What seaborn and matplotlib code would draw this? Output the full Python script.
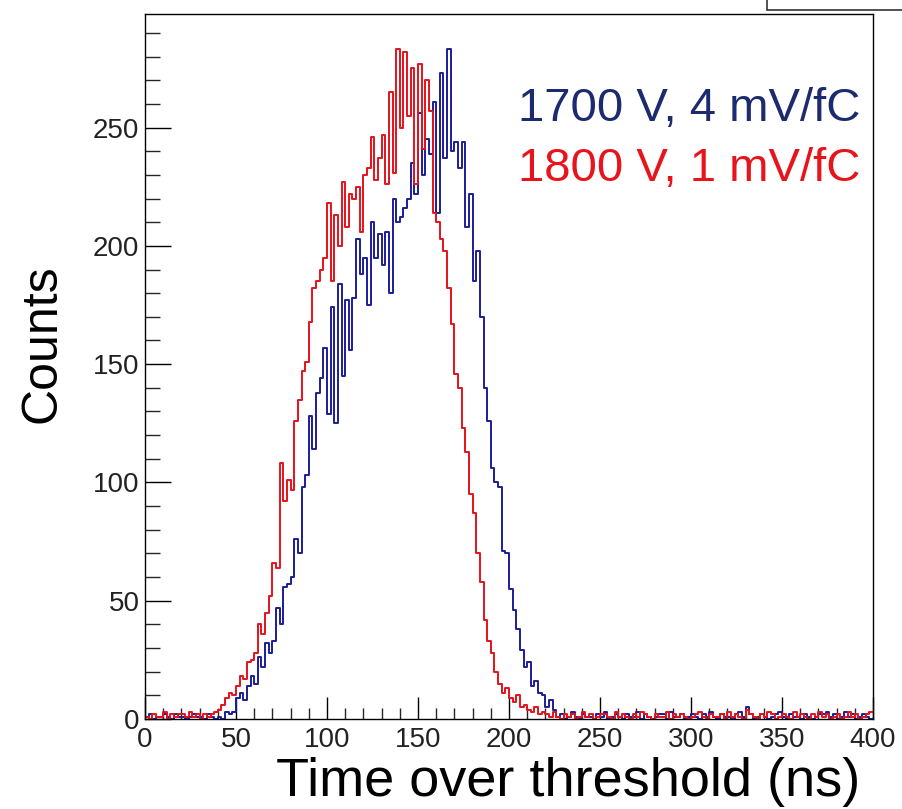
import numpy as np
import pandas as pd
import matplotlib
matplotlib.use("Agg")
import matplotlib.pyplot as plt
import seaborn as sns
from matplotlib.ticker import MultipleLocator
from matplotlib.patches import Rectangle

# ---------------- data (2 ns bins, 0-400 ns) ----------------
bin_width = 2
x_range = (0, 400)
bin_centers = np.arange(1, 400, 2)

red_counts = [
    1, 0, 2, 1, 1, 3, 0, 2, 1, 2, 2, 1, 3, 1, 2, 0, 2, 1, 2, 3,
    4, 6, 9, 11, 10, 14, 18, 17, 24, 25,
    28, 40, 36, 45, 52, 66, 64, 108, 92, 101,
    97, 126, 135, 147, 151, 168, 182, 185, 190, 195,
    218, 185, 213, 200, 227, 208, 222, 220, 225, 206,
    230, 233, 246, 228, 237, 247, 226, 265, 231, 283,
    250, 282, 255, 275, 226, 277, 241, 270, 257, 214,
    210, 203, 198, 182, 167, 146, 140, 123, 113, 95,
    87, 70, 58, 42, 33, 28, 20, 15, 11, 13,
    9, 7, 10, 5, 6, 4, 3, 5, 2, 3,
    2, 1, 3, 1, 0, 2, 1, 2, 0, 1,
    3, 1, 2, 0, 1, 2, 2, 1, 0, 3,
    1, 2, 1, 0, 2, 1, 3, 2, 1, 0,
    2, 1, 1, 3, 0, 2, 1, 2, 1, 0,
    1, 2, 3, 1, 0, 2, 1, 1, 2, 0,
    3, 1, 2, 1, 0, 4, 2, 1, 0, 2,
    1, 3, 2, 0, 1, 2, 1, 0, 3, 1,
    2, 1, 0, 2, 1, 3, 1, 2, 0, 1,
    2, 0, 1, 3, 1, 2, 0, 1, 2, 3,
]

blue_counts = [
    1, 2, 0, 1, 1, 2, 1, 0, 2, 1, 1, 0, 1, 2, 1, 1, 0, 2, 1, 0,
    1, 0, 3, 2, 3, 9, 11, 8, 14, 18,
    15, 26, 22, 32, 28, 33, 47, 40, 56, 57,
    60, 76, 70, 98, 103, 128, 114, 138, 144, 157,
    129, 174, 125, 184, 145, 177, 156, 178, 203, 188,
    195, 175, 210, 195, 205, 192, 206, 180, 220, 210,
    212, 216, 220, 235, 222, 256, 230, 245, 239, 261,
    214, 273, 237, 283, 240, 244, 233, 244, 208, 222,
    185, 198, 170, 140, 126, 106, 100, 98, 71, 70,
    55, 46, 38, 29, 22, 24, 14, 16, 11, 10,
    5, 8, 4,
    1, 2, 0, 1, 3, 1, 0, 2, 1, 1,
    0, 2, 1, 3, 0, 1, 2, 1, 0, 2,
    1, 1, 3, 0, 2, 1, 0, 1, 2, 2,
    0, 3, 1, 1, 2, 0, 1, 2, 1, 0,
    2, 1, 3, 1, 0, 2, 1, 1, 0, 2,
    3, 1, 5, 2, 0, 1, 2, 1, 0, 1,
    2, 3, 1, 0, 2, 1, 1, 0, 2, 1,
    0, 1, 2, 2, 3, 1, 2, 0, 1, 3,
    1, 2, 0, 1, 2, 1, 0,
]

series_labels = ["1700 V, 4 mV/fC", "1800 V, 1 mV/fC"]
x_title = "Time over threshold (ns)"
y_title = "Counts"

df_blue = pd.DataFrame({"tot": bin_centers, "counts": np.asarray(blue_counts, dtype=float)})
df_red = pd.DataFrame({"tot": bin_centers, "counts": np.asarray(red_counts, dtype=float)})

# ---------------- style ----------------
sns.set_theme(style="ticks")
plt.rcParams["font.family"] = ["Liberation Sans", "DejaVu Sans"]

line_blue = "#1c1c9a"
line_red = "#e5121c"
text_blue = "#1c2a6e"
text_red = "#e8141c"

fig = plt.figure(figsize=(9.02, 8.09), dpi=100)
ax = fig.add_axes([145 / 902, 1 - 719 / 809, 728 / 902, 705 / 809])

sns.histplot(data=df_blue, x="tot", weights="counts",
             binwidth=bin_width, binrange=x_range, element="step", fill=False,
             color=line_blue, linewidth=1.4, ax=ax)
sns.histplot(data=df_red, x="tot", weights="counts",
             binwidth=bin_width, binrange=x_range, element="step", fill=False,
             color=line_red, linewidth=1.4, ax=ax)

ax.set_xlim(0, 400)
ax.set_ylim(0, 298)
ax.xaxis.set_major_locator(MultipleLocator(50))
ax.xaxis.set_minor_locator(MultipleLocator(10))
ax.yaxis.set_major_locator(MultipleLocator(50))
ax.yaxis.set_minor_locator(MultipleLocator(10))

for s in ax.spines.values():
    s.set_color("black")
    s.set_linewidth(1.0)

ax.tick_params(axis="x", which="major", direction="in", length=16, width=1,
               labelsize=20, pad=6, colors="black", top=False)
ax.tick_params(axis="x", which="minor", direction="in", length=8, width=1, top=False)
ax.tick_params(axis="y", which="major", direction="in", length=19, width=1,
               labelsize=20, pad=4, colors="black", right=False)
ax.tick_params(axis="y", which="minor", direction="in", length=11, width=1, right=False)
for lab in ax.get_xticklabels() + ax.get_yticklabels():
    lab.set_color("#222222")

ax.set_xlabel(x_title, fontsize=39, ha="right", va="center", color="black")
ax.xaxis.set_label_coords(0.982, -0.089)
ax.set_ylabel(y_title, fontsize=36, va="center", color="black")
ax.yaxis.set_label_coords(-0.141, 0.533)

ax.text(0.982, 0.865, series_labels[0], transform=ax.transAxes, ha="right",
        va="center", fontsize=34, color=text_blue)
ax.text(0.982, 0.780, series_labels[1], transform=ax.transAxes, ha="right",
        va="center", fontsize=34, color=text_red)

# fragment of a stats box at the top-right corner
fig.patches.append(Rectangle((767 / 902, 1 - 10 / 809), 0.2, 0.05,
                             transform=fig.transFigure, facecolor="white",
                             edgecolor="#333333", linewidth=1.2, zorder=5))

fig.savefig("out.png", dpi=100)
